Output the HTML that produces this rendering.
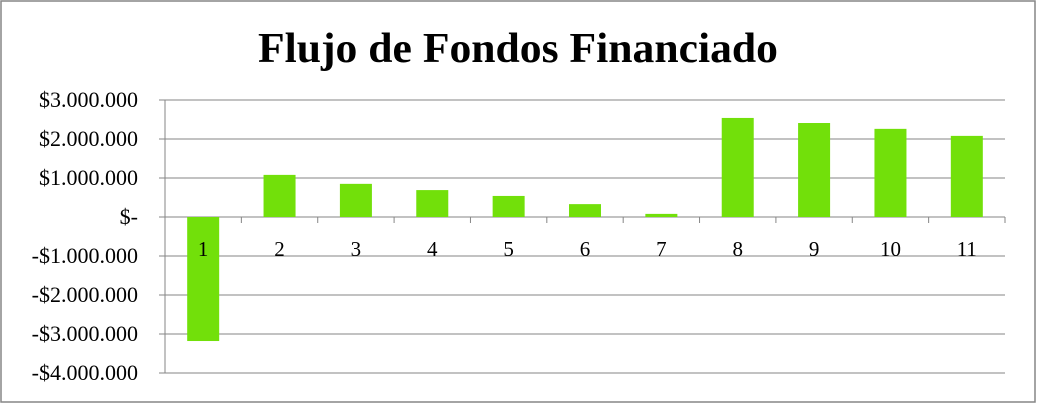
<!DOCTYPE html>
<html><head><meta charset="utf-8"><style>
html,body{margin:0;padding:0;background:#fff;}
svg{display:block;font-family:"Liberation Serif","DejaVu Serif",serif;}
</style></head><body>
<svg id="chart" width="1037" height="404">
<rect x="1" y="1" width="1034" height="401" fill="#fff" stroke="#868686" stroke-width="1.5"/>
<text x="518" y="62" text-anchor="middle" font-size="42" font-weight="bold" fill="#000" textLength="520" lengthAdjust="spacingAndGlyphs">Flujo de Fondos Financiado</text>
<g id="grid"></g><g id="bars"></g><g id="labels"></g>
</svg>
<script>
const categories=["1","2","3","4","5","6","7","8","9","10","11"];
const values=[-3180000,1080000,850000,690000,540000,330000,80000,2540000,2410000,2260000,2080000];
const ticks=[3000000,2000000,1000000,0,-1000000,-2000000,-3000000,-4000000];
const tickLabels=["$3.000.000","$2.000.000","$1.000.000","$-","-$1.000.000","-$2.000.000","-$3.000.000","-$4.000.000"];
const NS="http://www.w3.org/2000/svg";
const x0=165,x1=1005,yTop=100,yBot=373,vMax=3000000,vMin=-4000000;
function y(v){return yTop+(vMax-v)/(vMax-vMin)*(yBot-yTop);}
const band=(x1-x0)/categories.length;
function xc(i){return x0+band*(i+0.5);}
function mk(t,a,p){const e=document.createElementNS(NS,t);for(const k in a)e.setAttribute(k,a[k]);p.appendChild(e);return e;}
const g=document.getElementById('grid'),b=document.getElementById('bars'),l=document.getElementById('labels');
ticks.forEach((t,i)=>{
 const ln=mk('line',{x1:x0-6,x2:x1,y1:y(t),y2:y(t),stroke:'#868686','stroke-width':1},g);
 
 
 const tx=mk('text',{x:138,y:y(t)+7,'text-anchor':'end','font-size':22,fill:'#000'},g);
 tx.textContent=tickLabels[i];
 
 
});
const ax=mk('line',{x1:x0,x2:x0,y1:yTop,y2:yBot,stroke:'#868686','stroke-width':1},g);


for(let i=0;i<=categories.length;i++){
 const tk=mk('line',{x1:x0+band*i,x2:x0+band*i,y1:y(0),y2:y(0)+6,stroke:'#868686'},g);
 
 
}
values.forEach((v,i)=>{
 const top=Math.min(y(v),y(0)),h=Math.abs(y(v)-y(0));
 const r=mk('rect',{x:xc(i)-16,y:top,width:32,height:h,fill:'#72e00a'},b);
 
 
 const t=mk('text',{x:xc(i),y:y(0)+39,'text-anchor':'middle','font-size':21,fill:'#000'},l);
 t.textContent=categories[i];
 
 
});
</script>
</body></html>
